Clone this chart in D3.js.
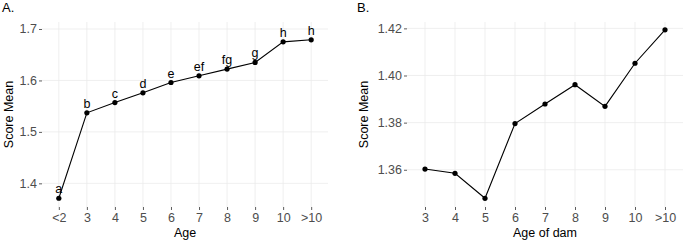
<!DOCTYPE html>
<html>
<head>
<meta charset="utf-8">
<script src="https://cdn.jsdelivr.net/npm/d3@7"></script>
<style>
  body { margin: 0; background: #fff; }
  svg { display: block; font-family: "Liberation Sans", Arial, sans-serif; }
</style>
</head>
<body>
<div id="chart"></div>
<script>
// Panel A: score mean by age, with significance letters
const ageCats = ["<2", "3", "4", "5", "6", "7", "8", "9", "10", ">10"];
const ageMeans = [1.371, 1.537, 1.557, 1.576, 1.596, 1.609, 1.622, 1.635, 1.675, 1.679];
const ageLetters = ["a", "b", "c", "d", "e", "ef", "fg", "g", "h", "h"];
const ageTicks = [1.4, 1.5, 1.6, 1.7];

// Panel B: score mean by age of dam
const damCats = ["3", "4", "5", "6", "7", "8", "9", "10", ">10"];
const damMeans = [1.3603, 1.3585, 1.3479, 1.3796, 1.3879, 1.3961, 1.3869, 1.4052, 1.4194];
const damTicks = [1.36, 1.38, 1.40, 1.42];

const width = 685, height = 242;
const svg = d3.select("#chart").append("svg")
  .attr("width", width)
  .attr("height", height);

function drawPanel(opt) {
  const { left, right, top, bottom, cats, vals, yDomain, yTicks, fmt, xTitle, tag, tagX, letters } = opt;

  const x = d3.scalePoint().domain(cats).range([left, right]).padding(0.6);
  const y = d3.scaleLinear().domain(yDomain).range([bottom, top]);

  const g = svg.append("g");

  // grid
  g.selectAll(".hgrid").data(yTicks).join("line")
    .attr("x1", left).attr("x2", right)
    .attr("y1", d => y(d)).attr("y2", d => y(d))
    .attr("stroke", "#ebebeb").attr("stroke-width", 0.8);
  g.selectAll(".vgrid").data(cats).join("line")
    .attr("x1", d => x(d)).attr("x2", d => x(d))
    .attr("y1", top).attr("y2", bottom)
    .attr("stroke", "#ebebeb").attr("stroke-width", 0.8);

  // axes
  const yAxis = g.append("g")
    .attr("transform", `translate(${left},0)`)
    .call(d3.axisLeft(y).tickValues(yTicks).tickFormat(fmt).tickSize(3).tickPadding(2));
  const xAxis = g.append("g")
    .attr("transform", `translate(0,${bottom})`)
    .call(d3.axisBottom(x).tickSize(3).tickPadding(3));
  [yAxis, xAxis].forEach(a => {
    a.select(".domain").remove();
    a.selectAll(".tick line").attr("stroke", "#333").attr("stroke-width", 0.8);
    a.selectAll(".tick text")
      .attr("fill", "#4d4d4d")
      .style("font-size", "12.5px")
      .style("font-family", "Liberation Sans, Arial, sans-serif");
  });

  // line + points
  const line = d3.line().x((d, i) => x(cats[i])).y(d => y(d));
  g.append("path")
    .datum(vals)
    .attr("d", line)
    .attr("fill", "none")
    .attr("stroke", "#000")
    .attr("stroke-width", 1.1);
  g.selectAll(".pt").data(vals).join("circle")
    .attr("cx", (d, i) => x(cats[i]))
    .attr("cy", d => y(d))
    .attr("r", 2.6)
    .attr("fill", "#000");

  if (letters) {
    g.selectAll(".lbl").data(vals).join("text")
      .attr("x", (d, i) => x(cats[i]))
      .attr("y", d => y(d) - 5)
      .attr("text-anchor", "middle")
      .style("font-size", "12.5px")
      .attr("fill", "#000")
      .text((d, i) => letters[i]);
  }

  // titles
  g.append("text")
    .attr("x", (left + right) / 2)
    .attr("y", 237)
    .attr("text-anchor", "middle")
    .style("font-size", "12.5px")
    .text(xTitle);
  g.append("text")
    .attr("transform", `translate(${tagX + 10},${(top + bottom) / 2}) rotate(-90)`)
    .attr("text-anchor", "middle")
    .style("font-size", "12.5px")
    .text("Score Mean");
  g.append("text")
    .attr("x", tag.x)
    .attr("y", 12)
    .style("font-size", "13px")
    .text(tag.label);
}

drawPanel({
  left: 42, right: 328, top: 22, bottom: 207,
  cats: ageCats, vals: ageMeans,
  yDomain: [1.354, 1.7136], yTicks: ageTicks, fmt: d3.format(".1f"),
  xTitle: "Age", tag: { x: 2, label: "A." }, tagX: 3, letters: ageLetters
});

drawPanel({
  left: 407, right: 683, top: 22, bottom: 207,
  cats: damCats, vals: damMeans,
  yDomain: [1.3442, 1.4227], yTicks: damTicks, fmt: d3.format(".2f"),
  xTitle: "Age of dam", tag: { x: 357, label: "B." }, tagX: 358, letters: null
});
</script>
</body>
</html>
